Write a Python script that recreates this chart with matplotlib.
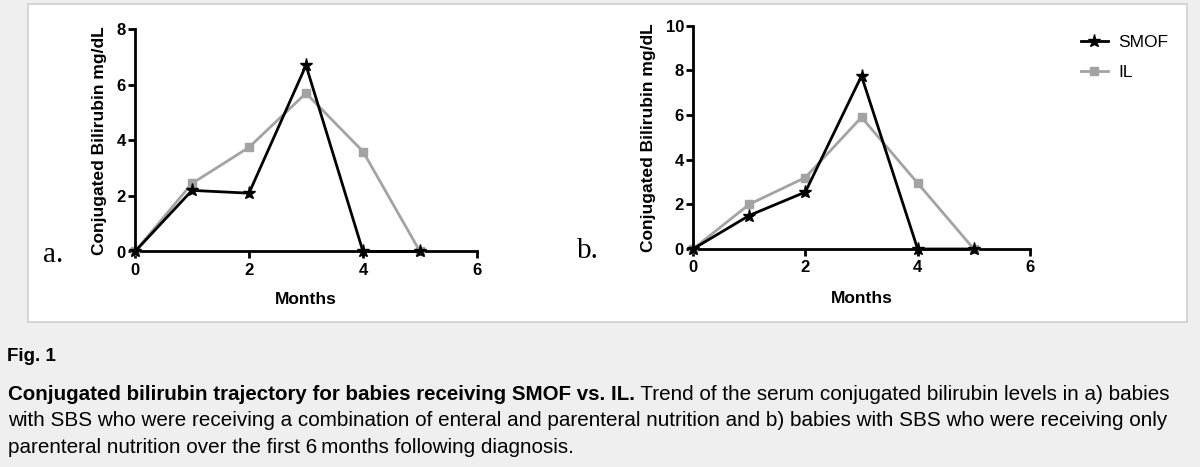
import matplotlib
matplotlib.use("Agg")
import matplotlib.pyplot as plt
from matplotlib.patches import Rectangle

plt.rcParams['font.family'] = ['Liberation Sans', 'DejaVu Sans']

months = [0, 1, 2, 3, 4, 5]
smof_a = [0, 2.2, 2.1, 6.7, 0, 0]
il_a = [0, 2.45, 3.75, 5.7, 3.6, 0]
smof_b = [0, 1.5, 2.55, 7.75, 0, 0]
il_b = [0, 2.0, 3.2, 5.9, 2.95, 0]
xticks = [0, 2, 4, 6]
yticks_a = [0, 2, 4, 6, 8]
yticks_b = [0, 2, 4, 6, 8, 10]

W, H = 1200, 467
fig = plt.figure(figsize=(W / 100, H / 100), dpi=100)
fig.patch.set_facecolor('#efefef')

def px(x0, y0, x1, y1):
    # pixel box (top-left origin) -> figure fraction rect
    return [x0 / W, 1 - y1 / H, (x1 - x0) / W, (y1 - y0) / H]

# white frame around the figure
fig.patches.append(Rectangle((28 / W, 1 - 322 / H), (1187 - 28) / W, (322 - 4) / H,
                             transform=fig.transFigure, facecolor='white',
                             edgecolor='#cfcfcf', lw=1.2, zorder=-5))

GRAY = '#a3a3a3'

def panel(rect, smof, il, yticks, ylab_x, xlab_y):
    ax = fig.add_axes(rect)
    ax.patch.set_alpha(0)
    ax.plot(months, il, color=GRAY, lw=2, marker='s', ms=6, mec=GRAY, mfc=GRAY,
            clip_on=False, zorder=3, label='IL')
    ax.plot(months, smof, color='black', lw=2, marker='*', ms=9.5,
            clip_on=False, zorder=4, label='SMOF')
    ax.set_xlim(0, 6)
    ax.set_ylim(0, yticks[-1])
    ax.set_xticks(xticks)
    ax.set_yticks(yticks)
    for s in ['top', 'right']:
        ax.spines[s].set_visible(False)
    for s in ['left', 'bottom']:
        ax.spines[s].set_linewidth(2)
    ax.tick_params(width=2, length=5, labelsize=12, pad=1.5)
    ax.tick_params(axis='x', pad=3)
    for t in ax.get_xticklabels() + ax.get_yticklabels():
        t.set_fontweight('bold')
    ax.set_ylabel('Conjugated Bilirubin mg/dL', fontsize=12.5, fontweight='bold')
    ax.set_xlabel('Months', fontsize=12.5, fontweight='bold')
    ax.yaxis.set_label_coords(ylab_x, 0.5)
    ax.xaxis.set_label_coords(0.5, xlab_y)
    return ax

ax1 = panel(px(135, 29.3, 477, 251.5), smof_a, il_a, yticks_a, -0.082, -0.182)
ax2 = panel(px(693, 25.7, 1030, 249), smof_b, il_b, yticks_b, -0.11, -0.188)

fig.text(43 / W, 1 - 262 / H, 'a.', family='Liberation Serif', fontsize=21)
fig.text(577 / W, 1 - 258 / H, 'b.', family='Liberation Serif', fontsize=21)

h, l = ax2.get_legend_handles_labels()
fig.legend(h[::-1], l[::-1], loc='center left', bbox_to_anchor=(1065 / W, 1 - 57.5 / H),
           frameon=False, fontsize=12.5, handlelength=1.55, handletextpad=0.6,
           labelspacing=0.85)

# caption
CAP = 14.9
fig.text(7 / W, 1 - 361 / H, 'Fig. 1', fontsize=13.5, fontweight='bold', va='baseline')
bold_part = 'Conjugated bilirubin trajectory for babies receiving SMOF vs. IL.'
rest = ' Trend of the serum conjugated bilirubin levels in a) babies'
lines = ['with SBS who were receiving a combination of enteral and parenteral nutrition and b) babies with SBS who were receiving only',
         'parenteral nutrition over the first 6\u2009months following diagnosis.']
t0 = fig.text(8 / W, 1 - 400 / H, bold_part, fontsize=14.75, fontweight='bold', va='baseline')
fig.canvas.draw()
bb = t0.get_window_extent()
fig.text(bb.x1 / W, 1 - 400 / H, rest, fontsize=CAP, va='baseline')
for i, ln in enumerate(lines):
    fig.text(8 / W, 1 - (426.5 + 26.5 * i) / H, ln, fontsize=CAP, va='baseline')

fig.savefig('out.png', dpi=100, facecolor=fig.get_facecolor())
